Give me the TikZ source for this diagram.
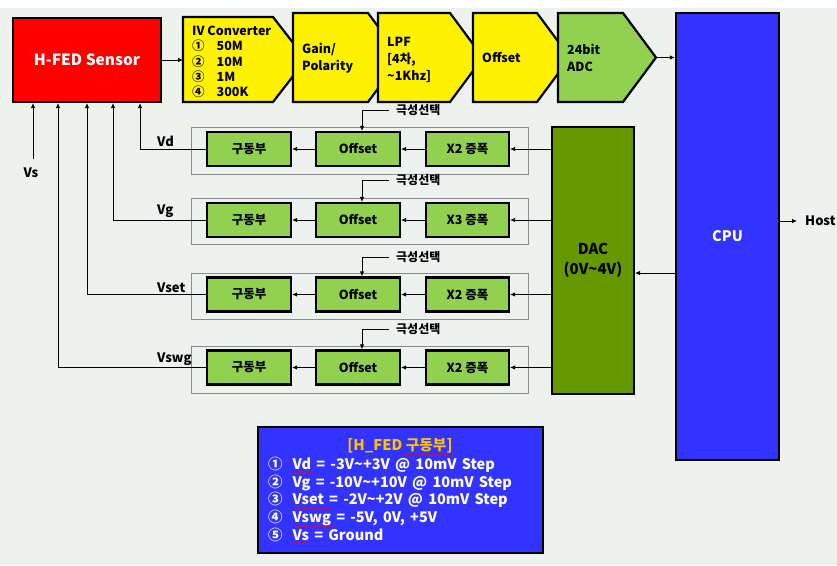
\documentclass[tikz,border=0pt]{standalone}
\usepackage{fontspec}
\setmainfont{Noto Sans CJK KR}
\usetikzlibrary{arrows.meta,decorations.pathmorphing}
\definecolor{bgc}{RGB}{238,242,238}
\definecolor{lgreen}{RGB}{146,208,80}
\definecolor{olivegreen}{RGB}{102,153,0}
\definecolor{cpublue}{RGB}{51,51,255}
\definecolor{titleor}{RGB}{255,192,0}
\newcommand\hplate[6]{%
  \filldraw[fill=#6,draw=black,line width=2.2pt,line join=miter] (#2,#4) -- (#3,#4) -- ({#3+33},{(#4+#5)/2}) -- (#3,#5) -- (#2,#5) -- cycle;
  \coordinate (#1w) at (#2,{(#4+#5)/2});
  \coordinate (#1tip) at ({#3+33},{(#4+#5)/2});
}
\begin{document}
\begin{tikzpicture}[x=1pt,y=-1pt,
  box/.style={draw=black,line width=2.2pt,inner sep=0pt,align=center},
  gbox/.style={box,fill=lgreen,minimum height=34pt,font=\bfseries\fontsize{12.5}{14}\selectfont},
  conn/.style={line width=0.8pt,-{Latex[length=5pt,width=4.5pt]}},
  lbl/.style={font=\bfseries\fontsize{13}{15}\selectfont,inner sep=0pt},
  frame/.style={draw=black!45,line width=0.7pt},
  ytext/.style={font=\bfseries\fontsize{12.5}{17}\selectfont,inner sep=0pt,align=left,anchor=west},
  squig/.style={draw=red,line width=0.5pt,decorate,decoration={snake,amplitude=0.7pt,segment length=3pt}}
]
\useasboundingbox (0,0) rectangle (837,565);
\fill[bgc] (0,0) rectangle (837,565);
\fill[white] (0,0) rectangle (837,8);

% sensor
\node[box,fill=red,minimum width=148pt,minimum height=84pt,text=white,
  font=\bfseries\fontsize{15.5}{18}\selectfont] (sensor) at (87,60) {H-FED Sensor};

% signal chain
\hplate{iv}{183}{273}{17}{102}{yellow}
\hplate{gain}{293}{368}{13}{102}{yellow}
\hplate{lpf}{378}{450}{13}{102}{yellow}
\hplate{offy}{473}{537}{13}{102}{yellow}
\hplate{adc}{558}{623}{13}{102}{lgreen}

\node[ytext,anchor=north west,font=\bfseries\fontsize{12.5}{15}\selectfont] (ivtxt) at (192,25)
  {\begin{tabular}{@{}l@{\hspace{12pt}}l@{}}\multicolumn{2}{@{}l@{}}{IV Converter}\\ ①&50M\\ ②&10M\\ ③&1M\\ ④&300K\end{tabular}};
\node[ytext] (gaintxt) at (302,58) {Gain/\\Polarity};
\node[ytext] (lpftxt) at (387,60) {LPF\\{[}4차,\\\textasciitilde 1Khz{]}};
\node[ytext] (offytxt) at (482,58) {Offset};
\node[ytext] (adctxt) at (567,58) {24bit\\ADC};

% CPU and DAC
\node[box,fill=cpublue,minimum width=103pt,minimum height=447pt,text=white,
  font=\bfseries\fontsize{14.5}{17}\selectfont] (cpu) at (727.5,236.5) {CPU};
\node[box,fill=olivegreen,minimum width=82pt,minimum height=267pt,
  font=\bfseries\fontsize{15}{20}\selectfont] (dac) at (593,260.5) {DAC\\(0V\textasciitilde 4V)};

\draw[conn] (sensor.east) -- (sensor.east -| ivw);
\draw[conn] (adctip) -- (adctip -| cpu.west);
\draw[conn] ([yshift=-12.5pt]dac.east -| cpu.west) -- ([yshift=-12.5pt]dac.east);
\node[lbl,font=\bfseries\fontsize{13}{15}\selectfont,anchor=west] (host) at (805,221) {Host};
\draw[conn] (cpu.east |- host.west) -- ([xshift=-8pt]host.west);

% driver rows
\foreach \c/\p/\ft/\fb/\amp/\lab/\vx/\i in
  {149/110/127/174/X2/Vd/140/1, 220/180/198/244/X3/Vg/113/2,
   294.5/257/273/319/X2/Vset/87/3, 367.5/329/346/393/X2/Vswg/58/4}{
  \draw[frame] (191,\ft) rectangle (528,\fb);
  \node[gbox,minimum width=84pt] (drv\i) at (249,\c) {구동부};
  \node[gbox,minimum width=84pt] (off\i) at (358,\c) {Offset};
  \node[gbox,minimum width=83pt] (amp\i) at (467.5,\c) {\amp\ 증폭};
  \draw[conn] (dac.west |- amp\i.east) -- (amp\i.east);
  \draw[conn] (amp\i.west) -- (off\i.east);
  \draw[conn] (off\i.west) -- (drv\i.east);
  \coordinate (fb\i) at (\vx,\c);
  \draw[conn] (drv\i.west) -- (fb\i) -- (fb\i |- sensor.south);
  \node[lbl,anchor=south west] (v\i) at (157,{\c-2}) {\lab};
  \node[lbl,font=\bfseries\fontsize{12}{13}\selectfont,anchor=west] (pol\i) at (396,\p) {극성선택};
  \coordinate (ps\i) at (389,\p);
  \draw[conn] (ps\i) -| ([xshift=4pt]off\i.north);
}

% Vs
\node[lbl] (vs) at (31,173) {Vs};
\coordinate (vsb) at (33,159);
\draw[conn] (vsb) -- (vsb |- sensor.south);

% info box
\node[box,fill=cpublue,minimum width=285pt,minimum height=126pt] (info) at (400.5,490) {};
\node[inner sep=0pt,text=titleor,font=\bfseries\fontsize{14.8}{16}\selectfont] (ititle) at (400,446) {{[}H\_FED 구동부{]}};
\node[inner sep=0pt,anchor=north west,text=white,font=\bfseries\fontsize{14.5}{17.5}\selectfont] (ilines) at (268,457)
  {\spaceskip=5.2pt\relax
  \begin{tabular}{@{}l@{\hspace{10pt}}l@{}}
  ①&Vd = -3V\textasciitilde+3V @ 10mV Step\\
  ②&Vg = -10V\textasciitilde+10V @ 10mV Step\\
  ③&Vset = -2V\textasciitilde+2V @ 10mV Step\\
  ④&Vswg = -5V, 0V, +5V\\
  ⑤&Vs = Ground
  \end{tabular}};
\path[squig] (404,455) -- (452,455);
\path[squig] (293,473) -- (313,473);
\path[squig] (293,508) -- (331,508);
\path[squig] (293,526) -- (335,526);
\path[squig] (293,543) -- (309,543);
\end{tikzpicture}
\end{document}
